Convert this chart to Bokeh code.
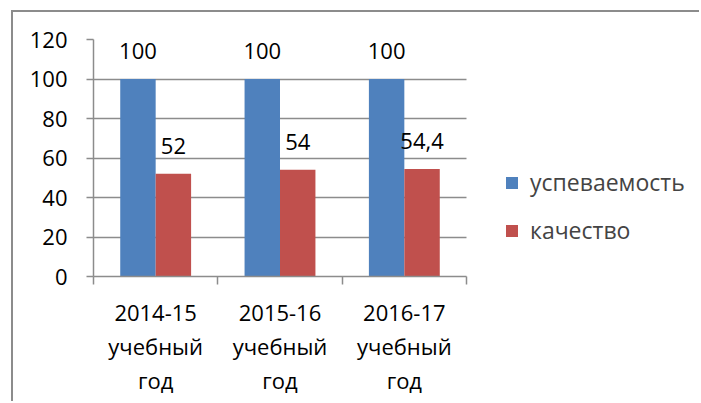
from bokeh.plotting import figure
from bokeh.models import (Range1d, FixedTicker, ColumnDataSource, Legend, LegendItem, LabelSet)
from bokeh.core.properties import value
from bokeh.embed import file_html
from bokeh.resources import INLINE
import numpy as np

categories = ["2014-15\nучебный\nгод", "2015-16\nучебный\nгод", "2016-17\nучебный\nгод"]
uspev = [100, 100, 100]
kachestvo = [52, 54, 54.4]
series_names = ["успеваемость", "качество"]
colors = ["#4F81BD", "#C0504D"]
y_ticks = [0, 20, 40, 60, 80, 100, 120]

FONT = "Open Sans"
GRID = "#8c8c8c"

def fmt(v):
    return ("%g" % v).replace(".", ",")

n = len(categories)
centers = np.arange(n) + 0.5
bw = 0.285

W, H = 688, 391
FL, FT, FH = 80, 27, 237
unit_px = 373 / n
x_max = (W - FL) / unit_px

p = figure(width=W, height=H, output_backend="svg", toolbar_location=None,
           x_range=Range1d(0, x_max), y_range=Range1d(0, 120),
           min_border_left=FL, min_border_top=FT, min_border_bottom=H - FT - FH, min_border_right=0)
p.styles = {"margin-left": "11px", "margin-top": "10px",
            "border-left": "2px solid #8c8c8c", "border-top": "2px solid #8c8c8c"}
p.outline_line_color = None
p.xgrid.grid_line_color = None
p.ygrid.grid_line_color = GRID
p.ygrid.grid_line_width = 1.5
p.ygrid.ticker = FixedTicker(ticks=y_ticks)
p.ygrid.cross_bounds = (0, n)

src1 = ColumnDataSource(dict(x=centers - bw / 2, top=uspev, lab=[fmt(v) for v in uspev]))
src2 = ColumnDataSource(dict(x=centers + bw / 2, top=kachestvo, lab=[fmt(v) for v in kachestvo]))
r1 = p.vbar(x="x", top="top", width=bw, source=src1, fill_color=colors[0], line_color=None)
r2 = p.vbar(x="x", top="top", width=bw, source=src2, fill_color=colors[1], line_color=None)

for s in (src1, src2):
    p.add_layout(LabelSet(x="x", y="top", text="lab", source=s, text_align="center",
                          text_baseline="alphabetic", y_offset=20, text_font=value(FONT),
                          text_font_size="22px", text_color="black"))

# y axis
ya = p.yaxis[0]
ya.ticker = FixedTicker(ticks=y_ticks)
ya.axis_line_color = GRID
ya.axis_line_width = 1.5
ya.major_tick_line_color = GRID
ya.major_tick_line_width = 1.5
ya.major_tick_out = 7
ya.major_tick_in = 0
ya.minor_tick_line_color = None
ya.major_label_text_font = FONT
ya.major_label_text_font_size = "22px"
ya.major_label_text_color = "black"
ya.major_label_standoff = 19

# x axis
xa = p.xaxis[0]
xa.bounds = (0, n)
xa.ticker = FixedTicker(ticks=list(centers), minor_ticks=list(range(n + 1)))
xa.major_label_overrides = {float(c): lab for c, lab in zip(centers, categories)}
xa.axis_line_color = GRID
xa.axis_line_width = 1.5
xa.major_tick_line_color = None
xa.major_tick_out = 0
xa.major_tick_in = 0
xa.minor_tick_line_color = GRID
xa.minor_tick_line_width = 1.5
xa.minor_tick_out = 8
xa.minor_tick_in = 0
xa.major_label_text_font = FONT
xa.major_label_text_font_size = "22px"
xa.major_label_text_color = "black"
xa.major_label_text_line_height = 1.14
xa.major_label_standoff = 12

legend = Legend(items=[LegendItem(label=series_names[0], renderers=[r1]),
                       LegendItem(label=series_names[1], renderers=[r2])],
                location=(411, 30), orientation="vertical")
legend.border_line_color = None
legend.background_fill_alpha = 0
legend.glyph_width = 15
legend.glyph_height = 15
legend.label_text_font = FONT
legend.label_text_font_size = "23px"
legend.label_height = 20
legend.spacing = 16
legend.label_standoff = 11
legend.padding = 0
legend.margin = 0
p.add_layout(legend)

open("out.html", "w").write(file_html(p, INLINE))
